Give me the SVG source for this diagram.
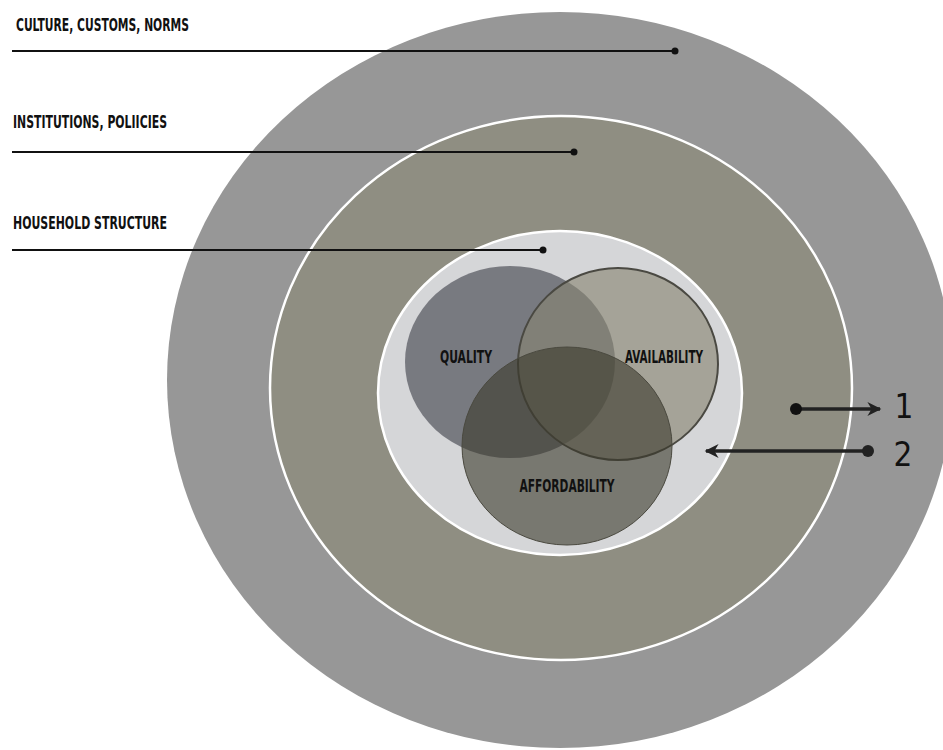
<svg xmlns="http://www.w3.org/2000/svg" width="943" height="750" viewBox="0 0 943 750">
<defs>
<style>
.lbl{font-family:"DejaVu Sans Condensed","Liberation Sans Narrow","Liberation Sans",sans-serif;font-weight:bold;font-size:18px;fill:#111}
.vl{font-family:"DejaVu Sans Condensed","Liberation Sans Narrow","Liberation Sans",sans-serif;font-weight:bold;font-size:18px;fill:#111;text-anchor:middle}
.num{font-family:"DejaVu Sans Condensed","Liberation Sans",sans-serif;font-size:33px;fill:#111}
.lead{stroke:#111;stroke-width:2;fill:none}
.arr{stroke:#222;stroke-width:3.5;fill:none}
</style>
<marker id="ah" viewBox="0 0 10 10" refX="9" refY="5" markerWidth="5" markerHeight="4" orient="auto" markerUnits="strokeWidth">
<path d="M0,0 L10,5 L0,10 L3,5 z" fill="#222"/>
</marker>
</defs>
<rect width="943" height="750" fill="#ffffff"/>
<g id="ring-culture"><ellipse cx="560" cy="380" rx="393" ry="368" fill="#979797"/></g>
<g id="ring-institutions"><ellipse cx="561" cy="388" rx="291" ry="272" fill="#8f8e82" stroke="#ffffff" stroke-width="2.5"/></g>
<g id="ring-household"><ellipse cx="560" cy="393" rx="182" ry="162" fill="#d5d6d8" stroke="#ffffff" stroke-width="2.5"/></g>
<g id="venn-quality"><ellipse cx="510" cy="362" rx="105" ry="96" fill="#55565e" fill-opacity="0.72"/></g>
<g id="venn-availability"><ellipse cx="618" cy="364" rx="100" ry="96" fill="#878471" fill-opacity="0.62" stroke="#4a4942" stroke-width="2"/></g>
<g id="venn-affordability"><ellipse cx="567" cy="446" rx="105" ry="99" fill="#3a382c" fill-opacity="0.6" stroke="#4a493f" stroke-width="1"/></g>
<g id="labels">
<text class="lbl" x="16" y="31" textLength="173" lengthAdjust="spacingAndGlyphs">CULTURE, CUSTOMS, NORMS</text>
<text class="lbl" x="13" y="128" textLength="154" lengthAdjust="spacingAndGlyphs">INSTITUTIONS, POLIICIES</text>
<text class="lbl" x="13" y="229" textLength="154" lengthAdjust="spacingAndGlyphs">HOUSEHOLD STRUCTURE</text>
<text class="vl" x="466" y="363" textLength="52" lengthAdjust="spacingAndGlyphs">QUALITY</text>
<text class="vl" x="664" y="363" textLength="78" lengthAdjust="spacingAndGlyphs">AVAILABILITY</text>
<text class="vl" x="567" y="492" textLength="95" lengthAdjust="spacingAndGlyphs">AFFORDABILITY</text>
<text class="num" x="904" y="418" text-anchor="middle">1</text>
<text class="num" x="903" y="466" text-anchor="middle">2</text>
</g>
<g id="connectors">
<line class="lead" x1="12" y1="51" x2="675" y2="51"/><circle cx="675" cy="51" r="3.5" fill="#111"/>
<line class="lead" x1="12" y1="152" x2="574" y2="152"/><circle cx="574" cy="152" r="3.5" fill="#111"/>
<line class="lead" x1="12" y1="250" x2="543" y2="250"/><circle cx="543" cy="250" r="3.5" fill="#111"/>
<line class="arr" x1="796" y1="409" x2="880" y2="409" marker-end="url(#ah)"/><circle cx="796" cy="409" r="6" fill="#111"/>
<line class="arr" x1="868" y1="451" x2="706" y2="451" marker-end="url(#ah)"/><circle cx="868" cy="451" r="6" fill="#222"/>
</g>
</svg>
